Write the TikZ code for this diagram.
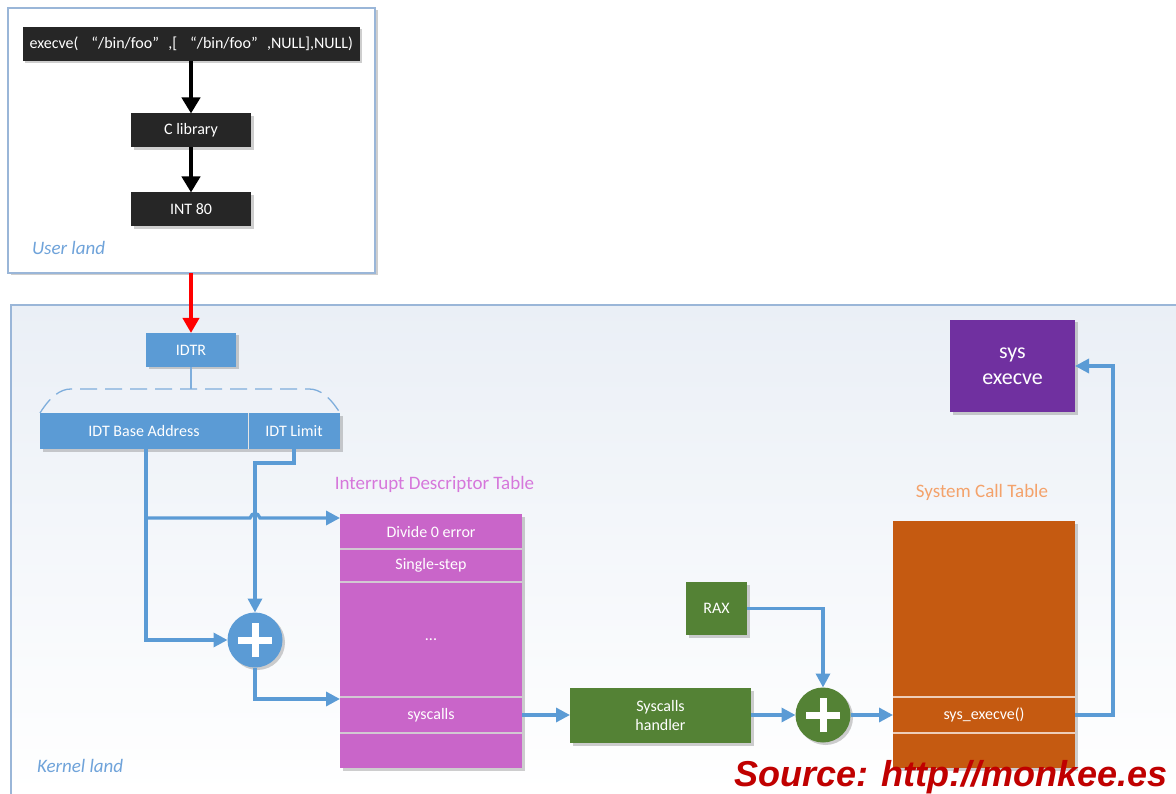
\documentclass[tikz,border=0pt]{standalone}
\usepackage{fontspec}
\setmainfont{Carlito}
\newfontfamily\srcfont{Liberation Sans}
\usetikzlibrary{arrows.meta,shadows,calc}

\definecolor{boxdark}{HTML}{262626}
\definecolor{idtblue}{HTML}{5B9BD5}
\definecolor{idtpink}{HTML}{C965C9}
\definecolor{idttitle}{HTML}{D677DB}
\definecolor{handgreen}{HTML}{548235}
\definecolor{sctorange}{HTML}{C55A11}
\definecolor{scttitle}{HTML}{F4A26B}
\definecolor{syspurple}{HTML}{7030A0}
\definecolor{landblue}{HTML}{6FA3DA}
\definecolor{framebd}{HTML}{9AB6D8}
\definecolor{dashblue}{HTML}{7FAEDC}
\definecolor{kernelbg}{HTML}{EAEFF6}
\definecolor{srcred}{HTML}{C00000}
\definecolor{rowline}{HTML}{D2C8D2}

% wide opening / closing quotes
\newcommand{\oq}{\makebox[16pt][r]{“}}
\newcommand{\cq}{\makebox[16pt][l]{”}}

\begin{document}
\begin{tikzpicture}[x=1pt,y=-1pt,
  every node/.style={inner sep=0pt, outer sep=0pt},
  body/.style={font=\fontsize{16}{19}\selectfont, text=white, align=center},
  shade box/.style={drop shadow={shadow xshift=2.5pt, shadow yshift=-2.5pt, opacity=0.35, fill=black!55}},
  darkbox/.style={rectangle, fill=boxdark, body, shade box},
  bluebox/.style={rectangle, fill=idtblue, body, shade box},
  pinkrow/.style={rectangle, fill=idtpink, body, minimum width=182pt},
  orangerow/.style={rectangle, fill=sctorange, body, minimum width=182pt},
  greenbox/.style={rectangle, fill=handgreen, body, shade box},
  adder/.style={circle, minimum size=55pt, shade box},
  plusbar/.style={draw=white, line width=7pt},
  blackarrow/.style={draw=black, line width=4pt, -{Triangle[length=16pt,width=18pt]}},
  redarrow/.style={draw=red, line width=4pt, -{Triangle[length=15pt,width=16pt]}},
  conn/.style={draw=idtblue, line width=3.3pt, -{Triangle[length=14pt,width=14pt]}},
  sep/.style={draw=rowline, line width=1.5pt},
  landlabel/.style={font=\fontsize{19}{22}\selectfont\itshape, text=landblue},
  tabletitle/.style={font=\fontsize{19}{22}\selectfont},
]
\useasboundingbox (0,0) rectangle (1176,794);
\fill[white] (0,0) rectangle (1176,794);

% kernel land frame
\shade[top color=kernelbg, bottom color=white] (11,305) rectangle (1176,794);
\draw[framebd, line width=1.5pt] (1176,305) -- (11,305) -- (11,794);
\node[landlabel, anchor=base west] (kl) at (37,772) {Kernel land};

% user land frame
\node[rectangle, draw=framebd, line width=1.5pt, fill=white,
      minimum width=367pt, minimum height=265pt, shade box] (user) at (191.5,140.5) {};
\node[landlabel, anchor=base west] (ul) at (32,255) {User land};

% user land chain
\node[darkbox, minimum width=337pt, minimum height=34pt] (call) at (191.3,44)
  {execve( \oq/bin/foo\cq,[ \oq/bin/foo\cq,NULL],NULL)};
\node[darkbox, minimum width=120pt, minimum height=34pt] (clib) at (191,130.5) {C library};
\node[darkbox, minimum width=120pt, minimum height=34pt] (int) at (191,209.5) {INT 80};
\draw[blackarrow] (call.south -| clib.north) -- (clib.north);
\draw[blackarrow] (clib.south) -- (int.north);

% IDTR and its fields
\node[bluebox, minimum width=90pt, minimum height=34pt] (idtr) at (191,350) {IDTR};
\draw[redarrow] (user.south -| idtr.north) -- (idtr.north);
\node[bluebox, minimum width=208pt, minimum height=36pt] (base) at (144,431) {IDT Base Address};
\node[bluebox, minimum width=92pt, minimum height=36pt] (limit) at (294,431) {IDT Limit};
\draw[white!80!gray, line width=1pt] (base.north east) -- (base.south east);
\coordinate (brace) at (191,389);
\draw[dashblue, line width=1.3pt] (idtr.south) -- (brace);
\draw[dashblue, line width=1.3pt, dash pattern=on 17pt off 8pt]
  (base.north west) .. controls ([xshift=10pt,yshift=-8pt]base.north west |- brace)
  and ([xshift=20pt]base.north west |- brace) .. ([xshift=31pt]base.north west |- brace)
  -- ([xshift=-31pt]limit.north east |- brace)
  .. controls ([xshift=-20pt]limit.north east |- brace)
  and ([xshift=-10pt,yshift=-8pt]limit.north east |- brace) .. (limit.north east);

% interrupt descriptor table
\node[tabletitle, text=idttitle, anchor=base] (idtt) at (434.5,489) {Interrupt Descriptor Table};
\node[rectangle, fill=idtpink, minimum width=182pt, minimum height=254pt, shade box] (idt) at (431,641) {};
\node[pinkrow, minimum height=35pt] (div) at (431,531.5) {Divide 0 error};
\node[pinkrow, minimum height=33pt] (single) at (431,565.5) {Single-step};
\node[pinkrow, minimum height=115pt] (dots) at (431,639.5) {...};
\node[pinkrow, minimum height=36pt] (sysc) at (431,715) {syscalls};
\node[pinkrow, minimum height=35pt] (rest) at (431,750.5) {};
\foreach \r in {single,dots,sysc,rest}
  \draw[sep] (\r.north west) -- (\r.north east);

% base + index adder
\node[adder, fill=idtblue] (plus1) at (255,640) {};
\draw[plusbar] ([xshift=-17pt]plus1.center) -- ([xshift=17pt]plus1.center);
\draw[plusbar] ([yshift=-17pt]plus1.center) -- ([yshift=17pt]plus1.center);

\coordinate (btap) at ([xshift=2pt]base.south);
\coordinate (hop) at (plus1.north |- 0,518);
\draw[conn] (btap) |- (plus1.west);
\draw[conn] (btap |- hop) -- ([xshift=-5pt]hop)
  .. controls ([xshift=-3pt,yshift=6pt]hop) and ([xshift=3pt,yshift=6pt]hop) .. ([xshift=5pt]hop)
  -- (div.west |- hop);
\draw[conn] (limit.south) -- ++(0,14) -| (plus1.north);
\draw[conn] (plus1.south) |- ([yshift=-2pt]sysc.north west);

% syscall dispatch
\node[greenbox, minimum width=181pt, minimum height=55pt] (handler) at (660.5,715.5) {Syscalls\\handler};
\node[greenbox, minimum width=61pt, minimum height=53pt] (rax) at (716.5,608.5) {RAX};
\node[adder, fill=handgreen] (plus2) at (823,715) {};
\draw[plusbar] ([xshift=-17pt]plus2.center) -- ([xshift=17pt]plus2.center);
\draw[plusbar] ([yshift=-17pt]plus2.center) -- ([yshift=17pt]plus2.center);

\draw[conn] (sysc.east) -- (handler.west |- sysc.east);
\draw[conn] (handler.east |- plus2.west) -- (plus2.west);
\draw[conn] (rax.east) -| (plus2.north);

% system call table
\node[tabletitle, text=scttitle, anchor=base] (sctt) at (982,497) {System Call Table};
\node[rectangle, fill=sctorange, minimum width=182pt, minimum height=247pt, shade box] (sct) at (984,644.5) {};
\node[orangerow, minimum height=176pt] (top) at (984,609) {};
\node[orangerow, minimum height=36pt] (sexec) at (984,715) {sys\_execve()};
\node[orangerow, minimum height=35pt] (last) at (984,750.5) {};
\foreach \r in {sexec,last}
  \draw[draw=white!70!sctorange, line width=1.5pt] (\r.north west) -- (\r.north east);
\draw[conn] (plus2.east) -- (sexec.west);

% target routine
\node[rectangle, fill=syspurple, text=white, align=center, shade box,
      font=\fontsize{22}{26}\selectfont, minimum width=125pt, minimum height=92pt] (sysx) at (1012.5,366) {sys\\execve};
\draw[conn] (sexec.east) -- ++(38,0) |- (sysx.east);

% attribution
\node[anchor=base west, text=srcred, font=\fontsize{36}{40}\srcfont\bfseries\itshape] (src) at (734,786) {Source: http://monkee.es};
\end{tikzpicture}
\end{document}
